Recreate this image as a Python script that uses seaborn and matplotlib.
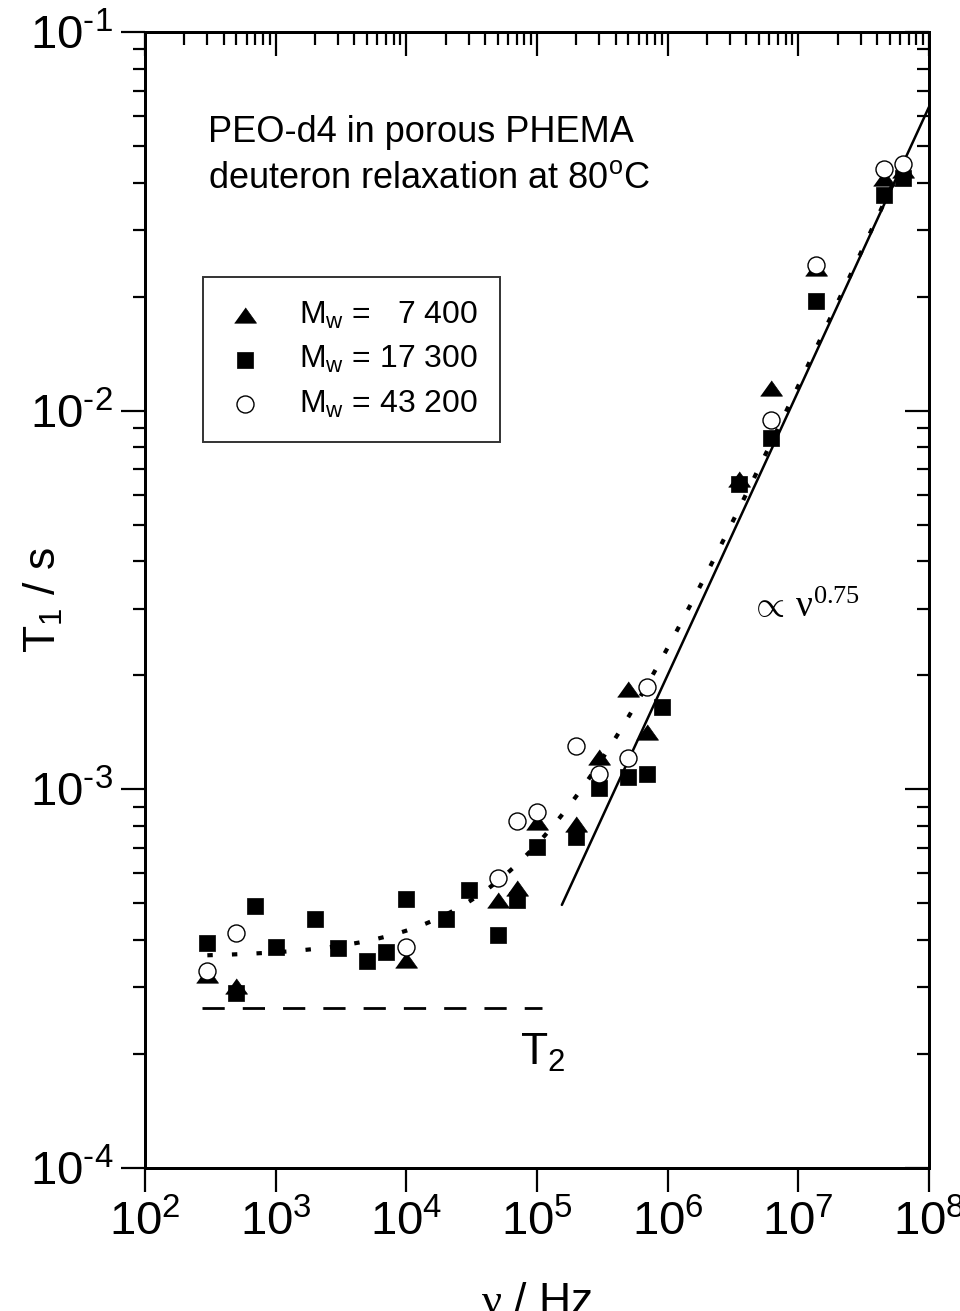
import numpy as np
import pandas as pd
import matplotlib
matplotlib.use("Agg")
import matplotlib.pyplot as plt
from matplotlib.ticker import FuncFormatter
import seaborn as sns

# ---- measured T1 values (frequency in Hz, T1 in s) ----
freq_7400 = [300, 500, 1e4, 5e4, 7e4, 1e5, 2e5, 3e5, 5e5, 7e5,
             3.5e6, 6.2e6, 1.36e7, 4.5e7, 6.3e7]
t1_7400 = [3.24e-4, 3.03e-4, 3.54e-4, 5.1e-4, 5.5e-4, 8.2e-4, 8.1e-4,
           1.22e-3, 1.84e-3, 1.42e-3, 6.6e-3, 1.15e-2, 2.38e-2, 4.11e-2, 4.33e-2]

freq_17300 = [300, 500, 700, 1000, 2000, 3000, 5000, 7000, 1e4, 2e4, 3e4,
              5e4, 7e4, 1e5, 2e5, 3e5, 5e5, 7e5, 9e5, 3.5e6, 6.2e6, 1.36e7,
              4.5e7, 6.3e7]
t1_17300 = [3.93e-4, 2.9e-4, 4.92e-4, 3.84e-4, 4.55e-4, 3.81e-4, 3.52e-4,
            3.72e-4, 5.13e-4, 4.55e-4, 5.42e-4, 4.12e-4, 5.1e-4, 7.05e-4,
            7.48e-4, 1.01e-3, 1.08e-3, 1.10e-3, 1.65e-3, 6.4e-3, 8.48e-3,
            1.95e-2, 3.72e-2, 4.11e-2]

freq_43200 = [300, 500, 1e4, 5e4, 7e4, 1e5, 2e5, 3e5, 5e5, 7e5,
              6.2e6, 1.36e7, 4.5e7, 6.3e7]
t1_43200 = [3.31e-4, 4.18e-4, 3.84e-4, 5.83e-4, 8.24e-4, 8.7e-4, 1.30e-3,
            1.10e-3, 1.21e-3, 1.86e-3, 9.44e-3, 2.43e-2, 4.35e-2, 4.47e-2]

series_labels = ["M$_\\mathregular{w}$ =   7 400",
                 "M$_\\mathregular{w}$ = 17 300",
                 "M$_\\mathregular{w}$ = 43 200"]

# ---- model curves ----
power_exponent = 0.75          # T1 ∝ ν^0.75
power_prefactor = 6.34e-8      # s · Hz^-0.75
plateau_t1 = 3.6e-4            # low-frequency plateau of the dotted fit
t2_level = 2.65e-4             # T2 reference level
t2_range = [275, 1.1e5]
power_range = [1.55e5, 1e8]
dotted_range = [300, 6.3e7]

x_ticks = [1e2, 1e3, 1e4, 1e5, 1e6, 1e7, 1e8]
y_ticks = [1e-4, 1e-3, 1e-2, 1e-1]


def decade_label(value, _pos):
    exp = int(round(np.log10(value)))
    if exp < 0:
        return "10$^{\\text{-}%d}$" % (-exp)
    return "10$^{%d}$" % exp


# ---- style ----
sns.set_theme(style="ticks")
plt.rcParams["font.family"] = ["Liberation Sans", "DejaVu Sans"]
plt.rcParams["mathtext.fontset"] = "custom"
plt.rcParams["mathtext.rm"] = "Liberation Sans"
plt.rcParams["mathtext.it"] = "Liberation Sans:italic"
plt.rcParams["mathtext.sf"] = "Liberation Serif"
plt.rcParams["axes.unicode_minus"] = False
plt.rcParams["axes.linewidth"] = 2.0
for key in ("text.color", "axes.labelcolor", "xtick.color", "ytick.color",
            "axes.edgecolor", "xtick.labelcolor", "ytick.labelcolor"):
    plt.rcParams[key] = "black"

fig = plt.figure(figsize=(9.6, 13.11), dpi=100)
ax = fig.add_axes([145 / 960, 1 - 1168 / 1311, 784 / 960, 1136 / 1311])
ax.set_xscale("log")
ax.set_yscale("log")

# fitted / reference lines
nu_dot = np.logspace(np.log10(dotted_range[0]), np.log10(dotted_range[1]), 300)
dot_df = pd.DataFrame({"nu": nu_dot,
                       "t1": plateau_t1 + power_prefactor * nu_dot ** power_exponent})
sns.lineplot(data=dot_df, x="nu", y="t1", ax=ax, color="black", lw=3.0,
             linestyle=(0, (1.3, 4.6)), dash_capstyle="butt", sort=False,
             estimator=None, zorder=2)

nu_pow = np.logspace(np.log10(power_range[0]), np.log10(power_range[1]), 100)
pow_df = pd.DataFrame({"nu": nu_pow, "t1": power_prefactor * nu_pow ** power_exponent})
sns.lineplot(data=pow_df, x="nu", y="t1", ax=ax, color="black", lw=1.8,
             sort=False, estimator=None, zorder=2)

t2_df = pd.DataFrame({"nu": t2_range, "t1": [t2_level, t2_level]})
sns.lineplot(data=t2_df, x="nu", y="t1", ax=ax, color="black", lw=2.0,
             linestyle=(0, (8, 6.5)), sort=False, estimator=None, zorder=2)

# data points
tri = [(-1, -0.7), (1, -0.7), (0, 0.7)]
sns.scatterplot(x=freq_7400, y=t1_7400, ax=ax, marker=tri, s=250,
                color="black", edgecolor="black", linewidth=0.5,
                label=series_labels[0], zorder=3)
sns.scatterplot(x=freq_17300, y=t1_17300, ax=ax, marker="s", s=130,
                color="black", edgecolor="black", linewidth=0.5,
                label=series_labels[1], zorder=4)
sns.scatterplot(x=freq_43200, y=t1_43200, ax=ax, marker="o", s=150,
                color="white", edgecolor="black", linewidth=1.0,
                label=series_labels[2], zorder=5)

ax.set_xlim(1e2, 1e8)
ax.set_ylim(1e-4, 1e-1)
ax.set_xticks(x_ticks)
ax.set_yticks(y_ticks)
ax.xaxis.set_major_formatter(FuncFormatter(decade_label))
ax.yaxis.set_major_formatter(FuncFormatter(decade_label))

tick_fs = 34
ax.tick_params(which="major", direction="out", length=17, width=1.6,
               labelsize=tick_fs, color="black", pad=6)
ax.tick_params(which="minor", direction="out", length=9, width=1.6, color="black")

# mirrored ticks on top and right pointing into the frame
axt = ax.twiny()
axt.set_xscale("log")
axt.set_xlim(ax.get_xlim())
axt.set_xticks(x_ticks)
axt.tick_params(which="major", direction="in", length=17, width=1.6,
                labeltop=False, labelbottom=False, top=True, bottom=False)
axt.tick_params(which="minor", direction="in", length=9, width=1.6,
                top=True, bottom=False)
axr = ax.twinx()
axr.set_yscale("log")
axr.set_ylim(ax.get_ylim())
axr.set_yticks(y_ticks)
axr.tick_params(which="major", direction="in", length=17, width=1.6,
                labelright=False, labelleft=False, right=True, left=False)
axr.tick_params(which="minor", direction="in", length=9, width=1.6,
                right=True, left=False)
for a in (ax, axt, axr):
    for sp in a.spines.values():
        sp.set_linewidth(2.0)
        sp.set_color("black")

ax.set_xlabel(r"$\mathsf{\nu}$ / Hz", fontsize=32)
ax.xaxis.set_label_coords(0.5, -0.100)
ax.set_ylabel("T$_\\mathregular{1}$ / s", fontsize=32)
ax.yaxis.set_label_coords(-0.102, 0.5)

# annotations
ax.text(0.080, 0.903, "PEO-d4 in porous PHEMA", transform=ax.transAxes,
        fontsize=26, ha="left", va="baseline")
ax.text(0.080, 0.863, "deuteron relaxation at 80$^\\mathregular{o}$C",
        transform=ax.transAxes, fontsize=26, ha="left", va="baseline")
ax.text(0.770, 0.485, r"$\mathsf{\propto\,\nu^{0.75}}$", transform=ax.transAxes,
        fontsize=27, ha="left", va="baseline")
ax.text(0.478, 0.0907, "T$_\\mathregular{2}$", transform=ax.transAxes,
        fontsize=32, ha="left", va="baseline")

leg = ax.legend(loc="upper left", bbox_to_anchor=(0.074, 0.784),
                borderaxespad=0, frameon=True, fancybox=False, fontsize=23,
                handletextpad=1.1, labelspacing=0.42, borderpad=0.7,
                handlelength=1.2)
leg.get_frame().set_edgecolor("black")
leg.get_frame().set_linewidth(1.4)
leg.set_zorder(10)

fig.savefig("out.png", dpi=100, facecolor="white")
